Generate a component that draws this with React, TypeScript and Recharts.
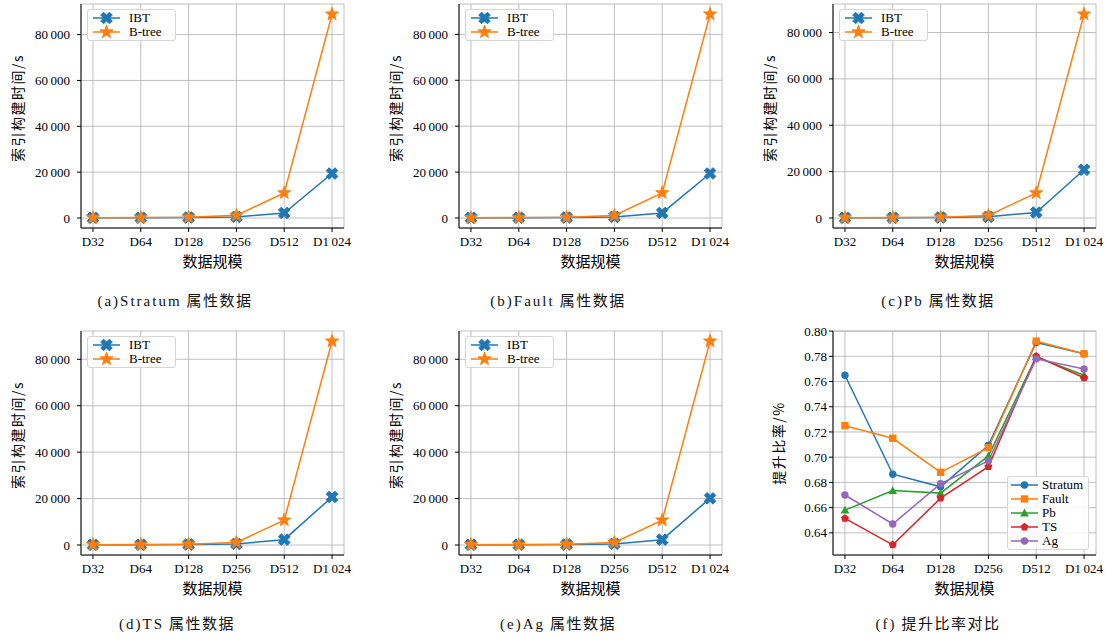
import React from "react";
import { LineChart, Line, XAxis, YAxis, CartesianGrid, Legend } from "recharts";

// x categories shared by every panel
const categories = ["D32", "D64", "D128", "D256", "D512", "D1\u2009024"];
const categoryIdx = [0, 1, 2, 3, 4, 5];

const timeTicks = [0, 20000, 40000, 60000, 80000];
const ratioTicks = [0.64, 0.66, 0.68, 0.7, 0.72, 0.74, 0.76, 0.78, 0.8];

// index build time (s)
const stratumIbt = [80, 120, 200, 480, 2200, 19400];
const stratumBtree = [150, 200, 350, 1150, 10950, 88900];
const faultIbt = [80, 120, 200, 480, 2200, 19400];
const faultBtree = [150, 200, 350, 1100, 10950, 88800];
const pbIbt = [80, 120, 200, 500, 2400, 20800];
const pbBtree = [150, 200, 350, 1100, 10800, 87900];
const tsIbt = [80, 120, 200, 480, 2300, 20700];
const tsBtree = [150, 200, 350, 1100, 10700, 87800];
const agIbt = [80, 120, 200, 480, 2300, 20100];
const agBtree = [150, 200, 350, 1100, 10700, 87800];

// improvement ratio
const ratioStratum = [0.765, 0.6865, 0.6765, 0.7095, 0.791, 0.782];
const ratioFault = [0.725, 0.715, 0.688, 0.7075, 0.792, 0.782];
const ratioPb = [0.658, 0.6735, 0.6715, 0.701, 0.7795, 0.765];
const ratioTs = [0.6515, 0.6305, 0.6675, 0.6925, 0.78, 0.763];
const ratioAg = [0.67, 0.647, 0.679, 0.697, 0.778, 0.77];

const BLUE = "#1f77b4";
const ORANGE = "#ff7f0e";
const GREEN = "#2ca02c";
const RED = "#d62728";
const PURPLE = "#9467bd";

const LATIN = "Liberation Serif, Times New Roman, DejaVu Serif, serif";
const CJK = "Noto Sans CJK SC, Noto Sans, sans-serif";

const PLOT_W = 263;
const PLOT_H = 224;
const YW = 80;
const MT = 6;
const MR = 10;
const XH = 46;

type Kind = "x" | "star" | "circle" | "square" | "triangle" | "pentagon";

interface Series {
  key: string;
  name: string;
  color: string;
  kind: Kind;
  values: number[];
}

const X_PTS = [
  [-1, -2], [0, -1], [1, -2], [2, -1], [1, 0], [2, 1],
  [1, 2], [0, 1], [-1, 2], [-2, 1], [-1, 0], [-2, -1],
];

function polyPts(cx: number, cy: number, n: number, rOut: number, rIn?: number) {
  const pts: string[] = [];
  const count = rIn ? n * 2 : n;
  for (let k = 0; k < count; k++) {
    const r = rIn && k % 2 === 1 ? rIn : rOut;
    const a = -Math.PI / 2 + (k * 2 * Math.PI) / count;
    pts.push(`${cx + r * Math.cos(a)},${cy + r * Math.sin(a)}`);
  }
  return pts.join(" ");
}

function Marker({ kind, cx, cy, color }: { kind: Kind; cx?: number; cy?: number; color: string }) {
  if (cx == null || cy == null) return null;
  switch (kind) {
    case "x":
      return (
        <polygon
          points={X_PTS.map(([x, y]) => `${cx + x * 2.9},${cy + y * 2.9}`).join(" ")}
          fill={color}
          stroke={color}
          strokeWidth={1}
          strokeLinejoin="round"
        />
      );
    case "star":
      return <polygon points={polyPts(cx, cy, 5, 7, 2.9)} fill={color} stroke={color} strokeWidth={0.8} />;
    case "circle":
      return <circle cx={cx} cy={cy} r={3.7} fill={color} />;
    case "square":
      return <rect x={cx - 3.7} y={cy - 3.7} width={7.4} height={7.4} fill={color} />;
    case "triangle":
      return <polygon points={`${cx},${cy - 4.4} ${cx - 4.4},${cy + 3.4} ${cx + 4.4},${cy + 3.4}`} fill={color} />;
    case "pentagon":
      return <polygon points={polyPts(cx, cy, 5, 4.2)} fill={color} />;
  }
  return null;
}

function LegendBox({ items, pad, gap, padRight }: { items: Series[]; pad: number; gap: number; padRight: number }) {
  return (
    <div
      style={{
        background: "rgba(255,255,255,0.85)",
        border: "1px solid #d5d5d5",
        borderRadius: 3,
        padding: `1px ${padRight}px 1px ${pad}px`,
        fontFamily: LATIN,
        fontSize: 13,
        color: "#000",
      }}
    >
      {items.map((s) => (
        <div key={s.key} style={{ display: "flex", alignItems: "center", height: 14 }}>
          <svg width={27} height={14} style={{ display: "block" }}>
            <line x1={0} x2={27} y1={7} y2={7} stroke={s.color} strokeWidth={1.5} />
            <Marker kind={s.kind} cx={13.5} cy={7} color={s.color} />
          </svg>
          <span style={{ marginLeft: gap, lineHeight: "14px", whiteSpace: "nowrap" }}>{s.name}</span>
        </div>
      ))}
    </div>
  );
}

interface PanelProps {
  plotLeft: number;
  plotTop: number;
  series: Series[];
  ticks: number[];
  domain: [number, number];
  tickFmt: (v: number) => string;
  yLabel: string;
  yLabelOffset: number;
  yLabelShift: number;
  yTickMargin: number;
  legend: { left: number; top: number; pad: number; gap: number; padRight: number };
}

function Panel(p: PanelProps) {
  const width = YW + PLOT_W + MR;
  const height = MT + PLOT_H + XH;
  const data = categoryIdx.map((i) => {
    const row: Record<string, number | string> = { i, label: categories[i] };
    p.series.forEach((s) => {
      row[s.key] = s.values[i];
    });
    return row;
  });
  const tickStyle = { fontSize: 13, fontFamily: LATIN, fill: "#000" };

  return (
    <div style={{ position: "absolute", left: p.plotLeft - YW, top: p.plotTop - MT }}>
      <LineChart width={width} height={height} data={data} margin={{ top: MT, right: MR, left: 0, bottom: 0 }}>
        <CartesianGrid stroke="#b0b0b0" strokeWidth={0.8} />
        <XAxis
          dataKey="i"
          type="number"
          domain={[-0.25, 5.25]}
          ticks={categoryIdx}
          allowDataOverflow
          interval={0}
          tickFormatter={(v: number) => categories[v]}
          height={XH}
          tickSize={4}
          tickMargin={5}
          tick={tickStyle}
          axisLine={{ stroke: "#000", strokeWidth: 1 }}
          tickLine={{ stroke: "#000" }}
          label={(lp: any) => {
            const vb = lp?.viewBox ?? { x: YW, y: MT + PLOT_H, width: PLOT_W, height: XH };
            return (
              <text
                x={vb.x + vb.width / 2}
                y={vb.y + 32}
                textAnchor="middle"
                dominantBaseline="central"
                fontFamily={CJK}
                fontSize={15}
                fill="#000"
              >
                数据规模
              </text>
            );
          }}
        />
        <XAxis xAxisId="top" orientation="top" type="number" domain={[0, 1]} height={0} tick={false} tickLine={false} axisLine={{ stroke: "#000" }} />
        <YAxis
          type="number"
          domain={p.domain}
          ticks={p.ticks}
          allowDataOverflow
          interval={0}
          tickFormatter={p.tickFmt}
          width={YW}
          tickSize={4}
          tickMargin={p.yTickMargin}
          tick={tickStyle}
          axisLine={{ stroke: "#000", strokeWidth: 1 }}
          tickLine={{ stroke: "#000" }}
          label={(lp: any) => {
            const vb = lp?.viewBox ?? { x: 0, y: MT, width: YW, height: PLOT_H };
            const x = vb.x + vb.width - p.yLabelOffset;
            const y = vb.y + vb.height / 2 + p.yLabelShift;
            return (
              <text
                x={x}
                y={y}
                transform={`rotate(-90 ${x} ${y})`}
                textAnchor="middle"
                dominantBaseline="central"
                fontFamily={CJK}
                fontSize={14}
                letterSpacing={1.5}
                fill="#000"
              >
                {p.yLabel}
              </text>
            );
          }}
        />
        <YAxis yAxisId="right" orientation="right" type="number" domain={[0, 1]} width={0} tick={false} tickLine={false} axisLine={{ stroke: "#000" }} />
        <Legend
          layout="vertical"
          align="center"
          verticalAlign="middle"
          wrapperStyle={{ left: p.legend.left, top: p.legend.top, width: "auto", height: "auto" }}
          content={() => <LegendBox items={p.series} pad={p.legend.pad} gap={p.legend.gap} padRight={p.legend.padRight} />}
        />
        {p.series.map((s) => (
          <Line
            key={s.key}
            dataKey={s.key}
            name={s.name}
            type="linear"
            stroke={s.color}
            strokeWidth={1.5}
            isAnimationActive={false}
            activeDot={false}
            dot={(dp: any) => <Marker key={`${s.key}-${dp.index}`} kind={s.kind} cx={dp.cx} cy={dp.cy} color={s.color} />}
          />
        ))}
      </LineChart>
    </div>
  );
}

function paddedDomain(arrays: number[][]): [number, number] {
  const all = arrays.flat();
  const lo = Math.min(...all);
  const hi = Math.max(...all);
  const pad = (hi - lo) * 0.05;
  return [lo - pad, hi + pad];
}

const fmtTime = (v: number) => (v === 0 ? "0" : `${v / 1000}\u2009000`);
const fmtRatio = (v: number) => v.toFixed(2);

function timeSeries(ibt: number[], btree: number[]): Series[] {
  return [
    { key: "ibt", name: "IBT", color: BLUE, kind: "x", values: ibt },
    { key: "btree", name: "B-tree", color: ORANGE, kind: "star", values: btree },
  ];
}

const ratioSeries: Series[] = [
  { key: "stratum", name: "Stratum", color: BLUE, kind: "circle", values: ratioStratum },
  { key: "fault", name: "Fault", color: ORANGE, kind: "square", values: ratioFault },
  { key: "pb", name: "Pb", color: GREEN, kind: "triangle", values: ratioPb },
  { key: "ts", name: "TS", color: RED, kind: "pentagon", values: ratioTs },
  { key: "ag", name: "Ag", color: PURPLE, kind: "circle", values: ratioAg },
];

const timeLegend = { left: YW + 6, top: MT + 5, pad: 5, gap: 9, padRight: 14 };

function Caption({ x, y, latin, cjk }: { x: number; y: number; latin: string; cjk: string }) {
  return (
    <div
      style={{
        position: "absolute",
        left: x,
        top: y,
        transform: "translate(-50%, -50%)",
        whiteSpace: "nowrap",
        fontSize: 15,
        color: "#111",
      }}
    >
      <span style={{ fontFamily: LATIN, letterSpacing: 2 }}>{latin}</span>
      <span style={{ fontFamily: CJK, letterSpacing: 1.5, marginLeft: 5 }}>{cjk}</span>
    </div>
  );
}

export default function App() {
  const timePanels = [
    { left: 81, top: 4, ibt: stratumIbt, btree: stratumBtree },
    { left: 459, top: 4, ibt: faultIbt, btree: faultBtree },
    { left: 833, top: 4, ibt: pbIbt, btree: pbBtree },
    { left: 81, top: 331, ibt: tsIbt, btree: tsBtree },
    { left: 459, top: 331, ibt: agIbt, btree: agBtree },
  ];

  return (
    <div style={{ position: "absolute", left: 0, top: 0, width: 1108, height: 639, background: "#fff", overflow: "hidden" }}>
      {timePanels.map((tp, k) => (
        <Panel
          key={k}
          plotLeft={tp.left}
          plotTop={tp.top}
          series={timeSeries(tp.ibt, tp.btree)}
          ticks={timeTicks}
          domain={paddedDomain([tp.ibt, tp.btree])}
          tickFmt={fmtTime}
          yLabel="索引构建时间/s"
          yLabelOffset={64}
          yLabelShift={-8}
          yTickMargin={7}
          legend={timeLegend}
        />
      ))}
      <Panel
        plotLeft={833}
        plotTop={331}
        series={ratioSeries}
        ticks={ratioTicks}
        domain={paddedDomain(ratioSeries.map((s) => s.values))}
        tickFmt={fmtRatio}
        yLabel="提升比率/%"
        yLabelOffset={55}
        yLabelShift={0}
        yTickMargin={2}
        legend={{ left: YW + 174, top: MT + 145, pad: 3, gap: 4, padRight: 5 }}
      />
      <Caption x={175} y={299} latin="(a)Stratum" cjk="属性数据" />
      <Caption x={558} y={299} latin="(b)Fault" cjk="属性数据" />
      <Caption x={938} y={299} latin="(c)Pb" cjk="属性数据" />
      <Caption x={177} y={622} latin="(d)TS" cjk="属性数据" />
      <Caption x={558} y={622} latin="(e)Ag" cjk="属性数据" />
      <Caption x={938} y={622} latin="(f)" cjk="提升比率对比" />
    </div>
  );
}
